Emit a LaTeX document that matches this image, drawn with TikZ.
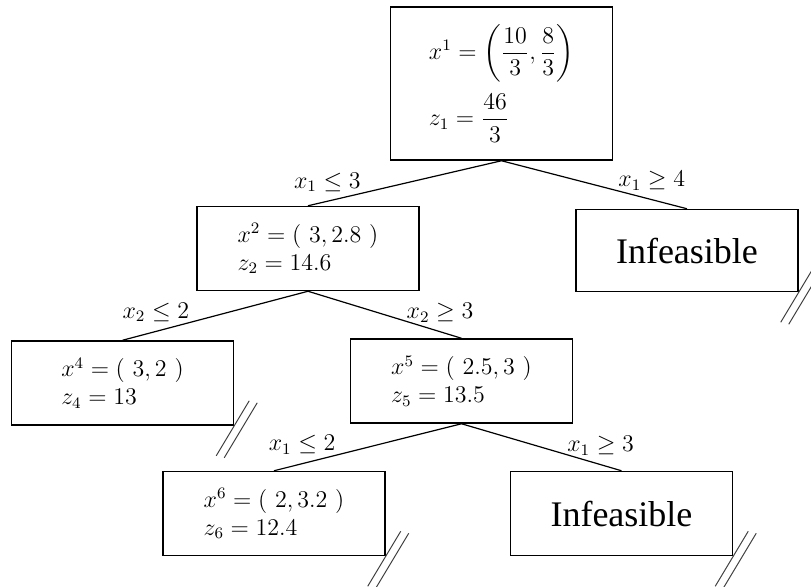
\documentclass[tikz,border=0pt]{standalone}
\usepackage{amsmath,amssymb}
\usepackage[no-math]{fontspec}
\newfontfamily\infeasfont{LiberationSerif}[Extension=.ttf, UprightFont=*-Regular]
\usetikzlibrary{positioning,calc}

\begin{document}
\begin{tikzpicture}[
    node distance=23pt,
    box/.style={rectangle, draw, line width=0.75pt, minimum width=111pt, minimum height=42pt, align=left, font=\large},
    leaf/.style={box, align=center, font=\infeasfont\fontsize{18}{20}\selectfont},
    lbl/.style={above=3.5pt, inner sep=1pt, font=\fontsize{11.5}{13}\selectfont},
    edge/.style={line width=0.6pt},
    cut/.style={line width=0.5pt, black!75}
]
    % Page frame
    \useasboundingbox (-250.75pt,-251.25pt) rectangle (154.75pt,41.75pt);

    % Root problem
    \node[box, minimum height=76.5pt] (root) at (0,0) {$x^1 = \left(\dfrac{10}{3},\dfrac{8}{3}\right)$\\[5pt]$z_1 = \dfrac{46}{3}$};

    % Branch on x1
    \node[box, below=22.5pt of root, xshift=-96.75pt] (n2) {$x^2 = (\ 3,2.8\ )$\\$z_2 = 14.6$};
    \node[leaf, minimum height=41pt, below=24pt of root, xshift=92.75pt] (inf1) {Infeasible};

    % Branch on x2
    \node[box, below=24.5pt of n2, xshift=-92.75pt] (n4) {$x^4 = (\ 3,2\ )$\\$z_4 = 13$};
    \node[box, below=23.5pt of n2, xshift=76.75pt] (n5) {$x^5 = (\ 2.5,3\ )$\\$z_5 = 13.5$};

    % Branch on x1 again
    \node[box, below=23.5pt of n5, xshift=-93.75pt] (n6) {$x^6 = (\ 2,3.2\ )$\\$z_6 = 12.4$};
    \node[leaf, below=23.5pt of n5, xshift=80pt] (inf3) {Infeasible};

    % Edges
    \draw[edge] (root.south) -- (n2.north) node[lbl, pos=0.9] {$x_1 \le 3$};
    \draw[edge] (root.south) -- (inf1.north) node[lbl, pos=0.81] {$x_1 \ge 4$};
    \draw[edge] (n2.south) -- (n4.north) node[lbl, pos=0.82] {$x_2 \le 2$};
    \draw[edge] (n2.south) -- (n5.north) node[lbl, pos=0.86] {$x_2 \ge 3$};
    \draw[edge] (n5.south) -- (n6.north) node[lbl, pos=0.85] {$x_1 \le 2$};
    \draw[edge] (n5.south) -- (inf3.north) node[lbl, pos=0.87] {$x_1 \ge 3$};

    % Fathomed nodes
    \foreach \leafnode in {inf1, n4, n6, inf3} {
        \draw[cut] ($(\leafnode.south east)+(-9pt,-15pt)$) -- ++(16.5pt,27.5pt);
        \draw[cut] ($(\leafnode.south east)+(-5pt,-16pt)$) -- ++(16.5pt,27.5pt);
    }
\end{tikzpicture}
\end{document}
